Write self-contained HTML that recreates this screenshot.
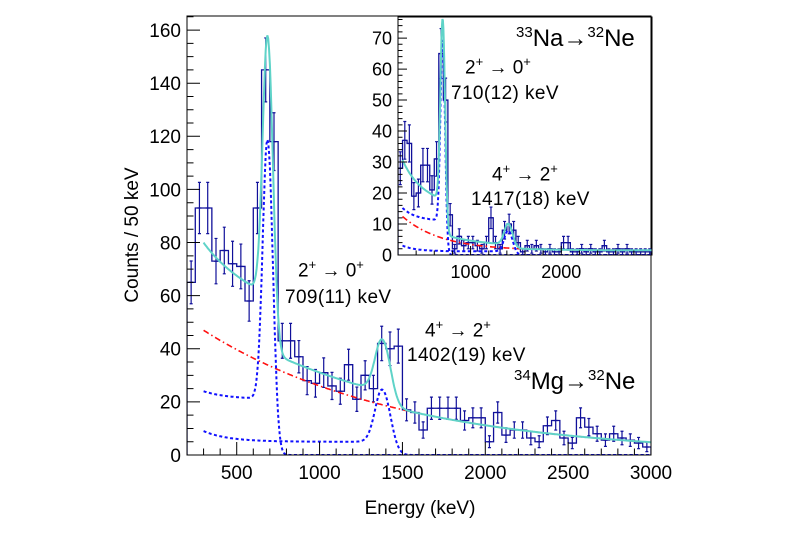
<!DOCTYPE html>
<html><head><meta charset="utf-8"><style>
html,body{margin:0;padding:0;background:#fff;}
svg{display:block;font-family:"Liberation Sans",sans-serif;}
.lbl{position:absolute;font-size:19px;letter-spacing:0.4px;white-space:nowrap;}
.tr{position:absolute;font-size:19px;white-space:nowrap;}
.tr sup{font-size:13px;}
.nuc{position:absolute;font-size:24px;white-space:nowrap;}
.nuc sup{font-size:15px;}
</style></head><body>
<svg id="c" width="800" height="533" viewBox="0 0 800 533" xmlns="http://www.w3.org/2000/svg">
<rect width="800" height="533" fill="#fff"/>
<g id="main"></g>
<g id="inset"></g>
<text x="420" y="514" font-size="19" text-anchor="middle">Energy (keV)</text>
<text x="138" y="235" font-size="19" text-anchor="middle" transform="rotate(-90 138 235)">Counts / 50 keV</text>
</svg>
<script>
// ---- main data (34Mg -> 32Ne), bins of 50 keV from 200
const mainBinStart = 200;
const mainBinWidth = 50;
const mainCounts = [65,93,93,73,77,72,71,58,93,145,118,43,43,37,28,27,31,26,24,34,21,30,25,42,40,41,17,16,9.4,17.6,17.6,17.6,17.6,13,14,14,5,16,7.5,9.4,9.4,6.4,5,11,13,6.4,4.5,14,10.5,8,5.6,8,6.4,5.6,4.5,3];
const mainXTicks = [500,1000,1500,2000,2500,3000];
const mainYTicks = [0,20,40,60,80,100,120,140,160];
// fit params: background a*exp(-E/t)+c ; response [E0, gaussAmp, sigma, tailConst, tailExpAmp]
const mainBg = [60.5,1185,0];
const mainPeak1 = [690,112,30,21,3];
const mainPeak2 = [1385,23,45,5,4];
// ---- inset data (33Na -> 32Ne)
const insetCounts = [28,37,36,19,20,29,29,21,31,65,50,13,2,6,3,4,4,3,2,4,12,4,2,8,10,8,4,1,3,2,3,2,1,2,1,1,4,4,1,1,2,1,2,1,1,3,1,1,2,1,2,1,1,1,1,1];
const insetXTicks = [1000,2000];
const insetYTicks = [0,10,20,30,40,50,60,70];
const insetBg = [19.5,432,1.5];
const insetPeak1 = [695,66,25,11,3];
const insetPeak2 = [1420,7.5,45,1.2,1.3];

const NS="http://www.w3.org/2000/svg";
function mk(parent,tag,attrs){const e=document.createElementNS(NS,tag);for(const k in attrs)e.setAttribute(k,attrs[k]);parent.appendChild(e);return e;}
function bg(p,E){return p[0]*Math.exp(-E/p[1])+p[2];}
function resp(p,E){const g=p[1]*Math.exp(-0.5*Math.pow((E-p[0])/p[2],2));
 const s=1/(1+Math.exp((E-(p[0]-0.3*p[2]))/(p[2]*0.3)));
 const t=(p[3]+p[4]*Math.exp(-(E-300)/150))*s;return g+t;}

function drawPlot(g,o){
 const sx=E=>o.x0+(E-o.xmin)/(o.xmax-o.xmin)*(o.x1-o.x0);
 const sy=v=>o.y1-(v-0)/(o.ymax)*(o.y1-o.y0);
 if(o.bgRect){const r=mk(g,'rect',{x:o.bgRect[0],y:o.bgRect[1],width:o.bgRect[2],height:o.bgRect[3],fill:'#fff'});
 }
 const clip='clip'+o.id;
 const cp=mk(g,'clipPath',{id:clip});mk(cp,'rect',{x:o.x0,y:o.y0,width:o.x1-o.x0,height:o.y1-o.y0});
 const pg=mk(g,'g',{'clip-path':'url(#'+clip+')'});
 let d='';const n=Math.min(o.counts.length,Math.round((o.xmax-o.xmin)/mainBinWidth));
 for(let i=0;i<n;i++){const a=o.xmin+i*mainBinWidth,b=a+mainBinWidth,y=sy(o.counts[i]);
  d+=(i===0?'M'+sx(a)+','+sy(0)+'L':'L')+sx(a)+','+y+'L'+sx(b)+','+y;}
 d+='L'+sx(o.xmin+n*mainBinWidth)+','+sy(0);
 const h=mk(pg,'path',{d:d,fill:'none',stroke:'#10109a','stroke-width':1.3});
 
 for(let i=0;i<n;i++){const c=o.xmin+(i+0.5)*mainBinWidth,v=o.counts[i],e=Math.sqrt(v);const x=sx(c);
  const eb=mk(pg,'path',{d:'M'+x+','+sy(v+e)+'L'+x+','+sy(Math.max(0,v-e))+'M'+(x-1.5)+','+sy(v+e)+'h3M'+(x-1.5)+','+sy(Math.max(0,v-e))+'h3M'+(x-2)+','+sy(v)+'h4',stroke:'#10109a','stroke-width':1.2,fill:'none'});
  }
 const curve=(f,from,st,name)=>{let p='';for(let E=from;E<=o.xmax;E+=5){p+=(E===from?'M':'L')+sx(E).toFixed(1)+','+sy(f(E)).toFixed(1);}
  const c=mk(pg,'path',Object.assign({d:p,fill:'none'},st));};
 curve(E=>bg(o.bg,E),o.cstart,{stroke:'#ff1010','stroke-width':1.6,'stroke-dasharray':'6,3,1.5,3'},'background-fit');
 curve(E=>resp(o.p1,E),o.cstart,{stroke:'#1010ff','stroke-width':2,'stroke-dasharray':'3,2.5'},'peak1-response');
 curve(E=>resp(o.p2,E),o.cstart,{stroke:'#1010ff','stroke-width':2,'stroke-dasharray':'3,2.5'},'peak2-response');
 curve(E=>bg(o.bg,E)+resp(o.p1,E)+resp(o.p2,E),o.cstart,{stroke:'#5fd3c8','stroke-width':2},'total-fit');
 const fr=mk(g,'rect',{x:o.x0,y:o.y0,width:o.x1-o.x0,height:o.y1-o.y0,fill:'none',stroke:'#000','stroke-width':1});
 
 let t='';
 for(let E=Math.ceil(o.xmin/o.xminor)*o.xminor;E<=o.xmax;E+=o.xminor){const maj=E%o.xmajor===0;t+='M'+sx(E)+','+o.y1+'v'+(-(maj?o.tl:o.tl/2));}
 for(let v=0;v<=o.ymax;v+=o.yminor){const maj=Math.abs(v%o.ymajor)<1e-6;t+='M'+o.x0+','+sy(v)+'h'+(maj?o.tl:o.tl/2);}
 const tk=mk(g,'path',{d:t,stroke:'#000','stroke-width':1,fill:'none'});
 o.xt.forEach(E=>{const l=mk(g,'text',{x:sx(E),y:o.y1+o.fs+5,'font-size':o.fs,'text-anchor':'middle'});l.textContent=E;
  });
 o.yt.forEach(v=>{const l=mk(g,'text',{x:o.x0-6,y:sy(v)+o.fs*0.36,'font-size':o.fs,'text-anchor':'end'});l.textContent=v;
  });
}
drawPlot(document.getElementById('main'),{id:'m',x0:187,x1:651,y0:16,y1:455,xmin:200,xmax:3000,ymax:165.3,counts:mainCounts,
 bg:mainBg,p1:mainPeak1,p2:mainPeak2,cstart:300,xminor:100,xmajor:500,yminor:5,ymajor:20,tl:13,xt:mainXTicks,yt:mainYTicks,fs:19});
drawPlot(document.getElementById('inset'),{id:'i',x0:398,x1:652,y0:17,y1:255,xmin:200,xmax:3000,ymax:76.8,counts:insetCounts,bgRect:[362,17,288,265],
 bg:insetBg,p1:insetPeak1,p2:insetPeak2,cstart:250,xminor:200,xmajor:1000,yminor:2,ymajor:10,tl:9,xt:insetXTicks,yt:insetYTicks,fs:18});
</script>
<div style="position:absolute;left:0;top:0;width:800px;height:533px;pointer-events:none;font-family:'Liberation Sans',sans-serif;">
<div class="nuc" style="left:516px;top:24px;"><sup>33</sup>Na→<sup>32</sup>Ne</div>
<div class="tr" style="left:465px;top:54px;">2<sup>+</sup> → 0<sup>+</sup></div>
<div class="lbl" style="left:451px;top:83px;">710(12) keV</div>
<div class="tr" style="left:492px;top:161px;">4<sup>+</sup> → 2<sup>+</sup></div>
<div class="lbl" style="left:471px;top:189px;">1417(18) keV</div>
<div class="tr" style="left:298px;top:257px;">2<sup>+</sup> → 0<sup>+</sup></div>
<div class="lbl" style="left:285px;top:287px;">709(11) keV</div>
<div class="tr" style="left:425px;top:317px;">4<sup>+</sup> → 2<sup>+</sup></div>
<div class="lbl" style="left:407px;top:345px;">1402(19) keV</div>
<div class="nuc" style="left:514px;top:367px;"><sup>34</sup>Mg→<sup>32</sup>Ne</div>
</div>
</body></html>
